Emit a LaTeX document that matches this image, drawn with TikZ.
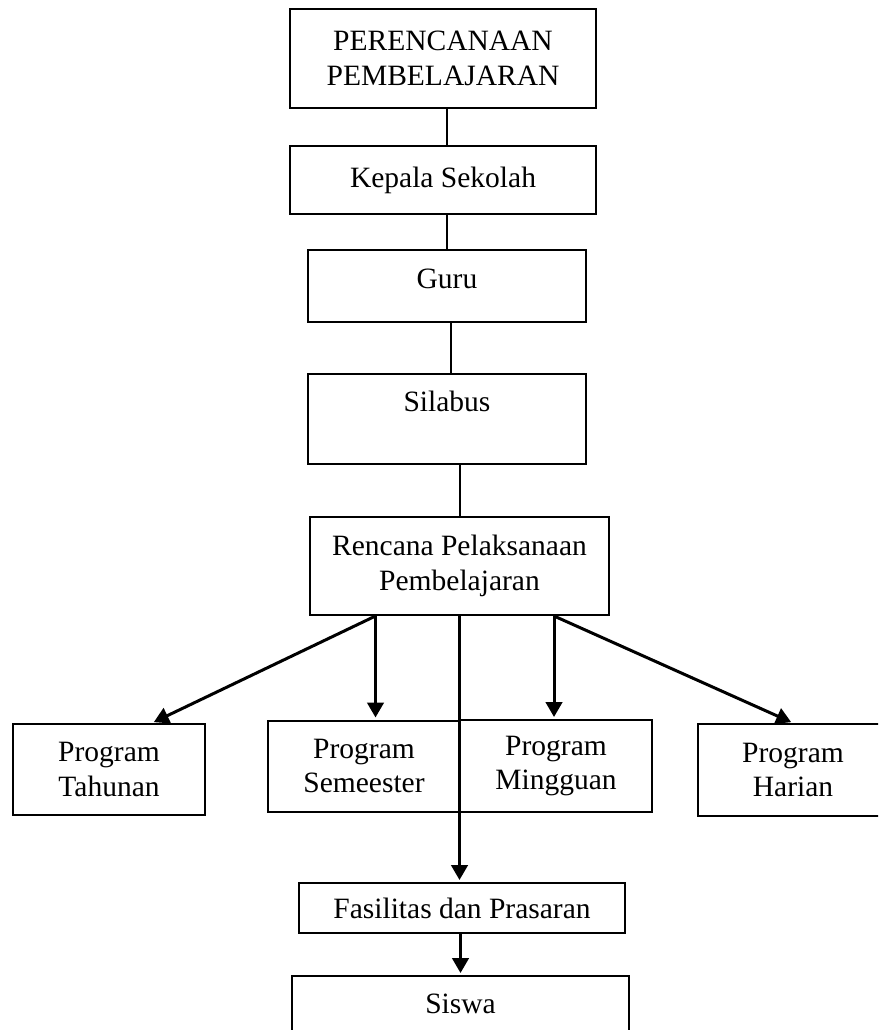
\documentclass[tikz,border=0pt]{standalone}
\usepackage{fontspec}
\setmainfont{Liberation Serif}
\usetikzlibrary{arrows.meta, positioning}

\begin{document}
\begin{tikzpicture}[x=0.4pt, y=-0.4pt, >={Triangle[length=6pt,width=6.6pt]},
    box/.style={draw, line width=0.8pt, align=center, inner sep=1pt, font=\fontsize{11.8}{13.8}\selectfont},
    link/.style={line width=0.8pt},
    arr/.style={->, line width=1.2pt, shorten >=0.8pt}]
      \useasboundingbox (0,0) rectangle (878,1030);
      \clip (0,0) rectangle (878,1030);

      \node[box, minimum width=122.4pt, minimum height=39.6pt] (plan) at (443,58.5) {PERENCANAAN\\PEMBELAJARAN};
      \node[box, minimum width=122.4pt, minimum height=27.2pt] (kepala) at (443,180) {Kepala Sekolah};
      \node[box, minimum width=111.2pt, minimum height=28.8pt, text height=8pt, text depth=5.6pt] (guru) at (447,286) {Guru};
      \node[box, minimum width=111.2pt, minimum height=36pt, text height=8pt, text depth=13.6pt] (silabus) at (447,419) {Silabus};
      \node[box, minimum width=119.6pt, minimum height=39.2pt] (rpp) at (459.5,566) {Rencana Pelaksanaan\\Pembelajaran};

      \node[box, minimum width=76.8pt, minimum height=36.4pt] (tahunan) at (109,769.5) {Program\\Tahunan};
      \node[box, minimum width=76.8pt, minimum height=36.4pt] (semeester) at (364,766) {Program\\Semeester};
      \node[box, minimum width=76.8pt, minimum height=36.8pt] (mingguan) at (556,766) {Program\\Mingguan};
      \node[box, minimum width=76pt, minimum height=36.8pt] (harian) at (793,770) {Program\\Harian};

      \node[box, minimum width=130.4pt, minimum height=20pt] (fasilitas) at (462,908) {Fasilitas dan Prasaran};
      \node[box, minimum width=134.8pt, minimum height=27.2pt, text height=8pt, text depth=5.6pt] (siswa) at (460.5,1010) {Siswa};

      \draw[link] ([xshift=1.6pt]plan.south) -- ([xshift=1.6pt]kepala.north);
      \draw[link] (kepala.south -| guru.north) -- (guru.north);
      \draw[link] ([xshift=1.6pt]guru.south) -- ([xshift=1.6pt]silabus.north);
      \draw[link] (silabus.south -| rpp.north) -- (rpp.north);

      \coordinate (rppL) at ([xshift=-33.6pt]rpp.south);
      \coordinate (rppR) at ([xshift=37.8pt]rpp.south);

      \draw[arr] (rppL) -- ([xshift=17.2pt]tahunan.north);
      \draw[arr] (rppL) -- (rppL |- semeester.north);
      \draw[arr] (rppR) -- (rppR |- mingguan.north);
      \draw[arr] (rppR) -- (harian.north);
      \draw[arr] (rpp.south) -- (rpp.south |- fasilitas.north);
      \draw[arr] (fasilitas.south -| siswa.north) -- (siswa.north);
    \end{tikzpicture}
\end{document}
